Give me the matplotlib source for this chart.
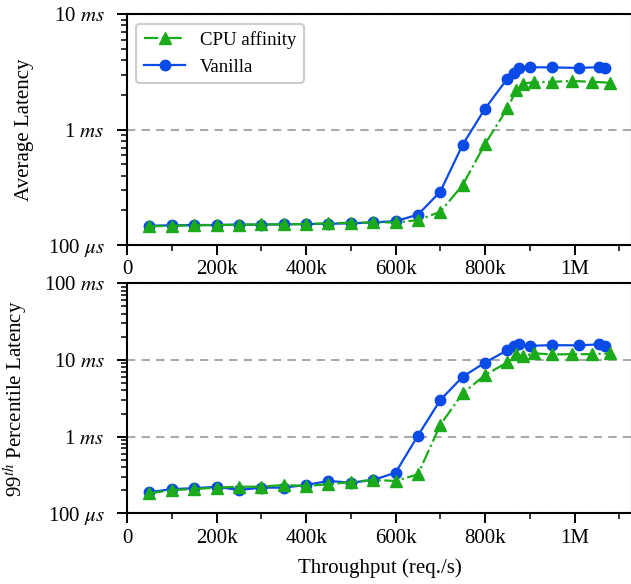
import matplotlib
matplotlib.use("Agg")
import matplotlib.pyplot as plt
from matplotlib.ticker import MultipleLocator, FuncFormatter, LogLocator, NullFormatter
import numpy as np

plt.rcParams['font.family'] = ['Liberation Serif', 'DejaVu Serif']
plt.rcParams['mathtext.fontset'] = 'stix'

# throughput (req/s)
x_vanilla = [50e3, 100e3, 150e3, 200e3, 250e3, 300e3, 350e3, 400e3, 450e3, 500e3, 550e3, 600e3,
             650e3, 700e3, 750e3, 800e3, 850e3, 865e3, 875e3, 900e3, 950e3, 1010e3, 1055e3, 1067e3]
x_affinity = [50e3, 100e3, 150e3, 200e3, 250e3, 300e3, 350e3, 400e3, 450e3, 500e3, 550e3, 600e3,
              650e3, 700e3, 750e3, 800e3, 850e3, 870e3, 885e3, 910e3, 950e3, 995e3, 1040e3, 1080e3]

# latency in ms
avg_vanilla = [0.147, 0.148, 0.149, 0.149, 0.150, 0.150, 0.151, 0.152, 0.153, 0.154, 0.157, 0.161,
               0.183, 0.290, 0.741, 1.52, 2.77, 3.12, 3.43, 3.48, 3.46, 3.43, 3.48, 3.41]
avg_affinity = [0.145, 0.147, 0.148, 0.149, 0.150, 0.151, 0.151, 0.152, 0.154, 0.156, 0.157, 0.157,
                0.164, 0.194, 0.331, 0.751, 1.53, 2.21, 2.51, 2.58, 2.60, 2.64, 2.60, 2.55]
p99_vanilla = [0.188, 0.207, 0.212, 0.222, 0.201, 0.216, 0.216, 0.234, 0.264, 0.251, 0.272, 0.338,
               1.03, 3.00, 6.04, 9.25, 13.4, 15.2, 16.1, 15.3, 15.6, 15.5, 16.0, 15.3]
p99_affinity = [0.182, 0.201, 0.207, 0.216, 0.222, 0.222, 0.234, 0.227, 0.239, 0.256, 0.272, 0.264,
                0.322, 1.42, 3.67, 6.35, 9.31, 11.8, 11.2, 12.2, 11.8, 11.9, 11.9, 12.2]

blue = '#0a4ae6'
green = '#1aaa1a'
FS = 15


def xfmt(v, pos):
    if v == 0:
        return '0'
    if v >= 1e6:
        return '%gM' % (v / 1e6)
    return '%dk' % (v / 1000)


def yfmt(v, pos):
    if v < 1:
        return r'%d $\mu s$' % round(v * 1000)
    return r'%d $ms$' % round(v)


fig = plt.figure(figsize=(6.31, 5.84), dpi=100)
ax1 = fig.add_axes([0.2013, 0.5805, 0.80, 0.395])
ax2 = fig.add_axes([0.2013, 0.1211, 0.80, 0.3938])

for ax, yv, ya, ylim, lab in [(ax1, avg_vanilla, avg_affinity, (0.1, 10), 'Average Latency'),
                              (ax2, p99_vanilla, p99_affinity, (0.1, 100), r'99$^{th}$ Percentile Latency')]:
    lv, = ax.plot(x_vanilla, yv, '-o', color=blue, lw=1.6, ms=7.5, zorder=3)
    la, = ax.plot(x_affinity, ya, '-.^', color=green, lw=1.6, ms=8.5, zorder=4)
    ax.set_yscale('log')
    ax.set_ylim(*ylim)
    ax.set_xlim(0, 1.128e6)
    ax.xaxis.set_major_locator(MultipleLocator(200000))
    ax.xaxis.set_minor_locator(MultipleLocator(100000))
    ax.xaxis.set_major_formatter(FuncFormatter(xfmt))
    ax.yaxis.set_major_locator(LogLocator(base=10))
    ax.yaxis.set_minor_locator(LogLocator(base=10, subs=np.arange(2, 10)))
    ax.yaxis.set_major_formatter(FuncFormatter(yfmt))
    ax.yaxis.set_minor_formatter(NullFormatter())
    ax.tick_params(axis='both', which='major', direction='out', length=7, width=1.4, labelsize=FS)
    ax.tick_params(axis='both', which='minor', direction='out', length=4, width=1.1)
    ax.tick_params(axis='x', which='major', pad=4)
    ax.tick_params(axis='y', which='major', pad=9)
    ax.yaxis.grid(True, which='major', ls=(0, (4, 3)), color='#aaaaaa', lw=1.5)
    ax.set_ylabel(lab, fontsize=FS, labelpad=10)
    for s in ax.spines.values():
        s.set_linewidth(1.5)

ax2.set_xlabel('Throughput (req./s)', fontsize=FS, labelpad=8)
leg = ax1.legend([la, lv], ['CPU affinity', 'Vanilla'], loc='upper left', fontsize=13.5,
                 handlelength=2.2, frameon=True, fancybox=True, framealpha=1)
leg.get_frame().set_edgecolor('#cccccc')
leg.get_frame().set_linewidth(1.5)

fig.savefig('out.png', dpi=100)
